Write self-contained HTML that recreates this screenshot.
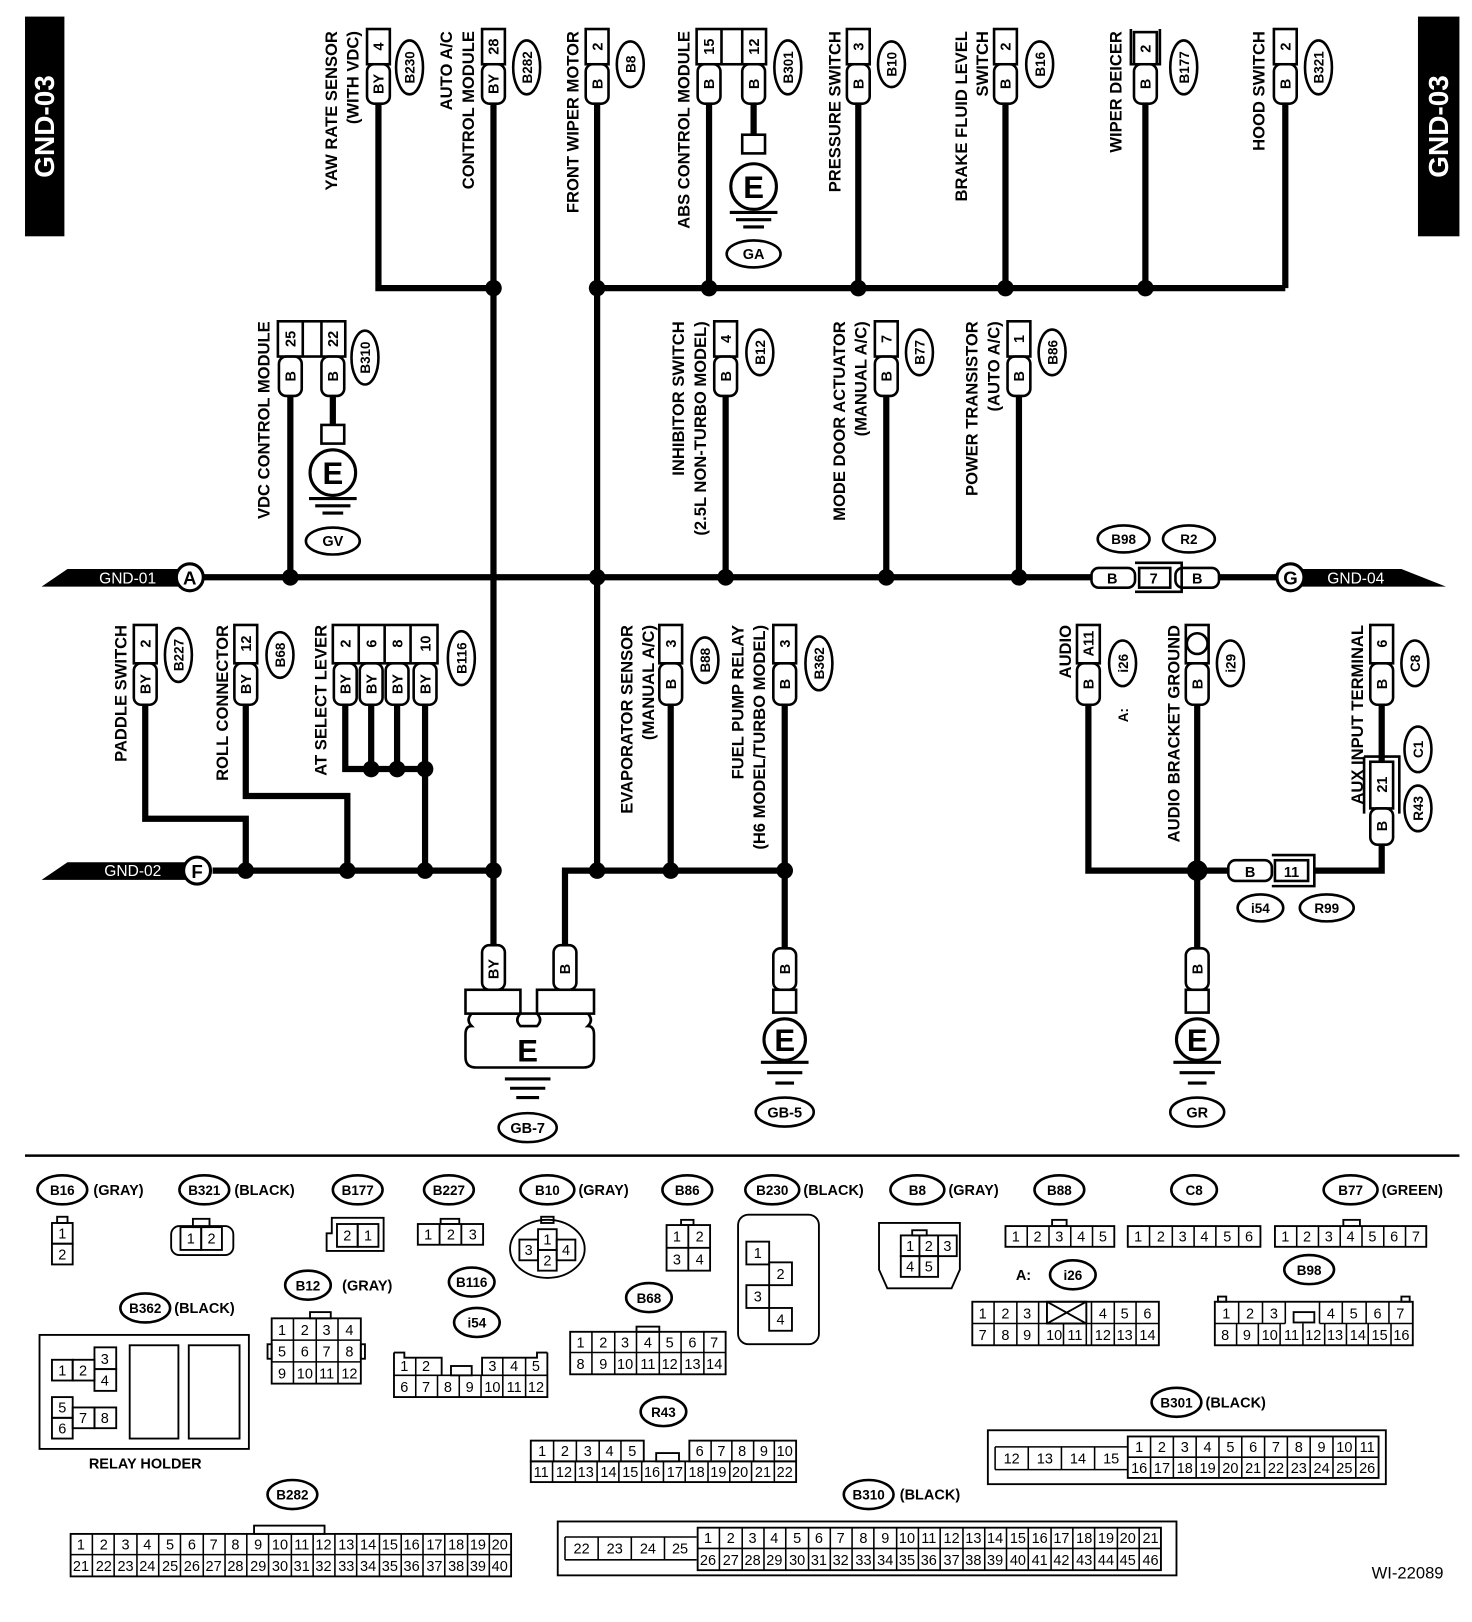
<!DOCTYPE html>
<html><head><meta charset="utf-8"><style>
html,body{margin:0;padding:0;background:#fff}
svg{display:block}
text{font-family:"Liberation Sans",Arial,sans-serif}
.b{font-weight:bold}
</style></head><body>
<svg width="1472" height="1622" viewBox="0 0 1420 1565" xmlns="http://www.w3.org/2000/svg">
<rect width="1420" height="1565" fill="#fff"/>
<rect x="24" y="16" width="38" height="212" fill="#000"/>
<text class="b" transform="translate(52,122) rotate(-90)" text-anchor="middle" font-size="27" fill="#fff">GND-03</text>
<rect x="1368" y="16" width="40" height="212" fill="#000"/>
<text class="b" transform="translate(1397,122) rotate(-90)" text-anchor="middle" font-size="27" fill="#fff">GND-03</text>

<g stroke="#000" stroke-width="6" fill="none" stroke-linejoin="miter">
<polyline points="365,100 365,278 476,278"/>
<line x1="476" y1="100" x2="476" y2="912"/>
<polyline points="576,100 576,840"/>
<line x1="576" y1="278" x2="1240" y2="278"/>
<line x1="684" y1="100" x2="684" y2="278"/>
<line x1="727" y1="100" x2="727" y2="130"/>
<line x1="828" y1="100" x2="828" y2="278"/>
<line x1="970" y1="100" x2="970" y2="278"/>
<line x1="1105" y1="100" x2="1105" y2="278"/>
<line x1="1240" y1="100" x2="1240" y2="278"/>
<line x1="197" y1="557" x2="1053" y2="557"/>
<line x1="1175" y1="557" x2="1232" y2="557"/>
<line x1="280" y1="382" x2="280" y2="557"/>
<line x1="321" y1="382" x2="321" y2="410"/>
<line x1="700" y1="382" x2="700" y2="557"/>
<line x1="855" y1="382" x2="855" y2="557"/>
<line x1="983" y1="382" x2="983" y2="557"/>
<line x1="205" y1="840" x2="476" y2="840"/>
<polyline points="545,912 545,840 757,840"/>
<line x1="757" y1="680" x2="757" y2="915"/>
<line x1="647" y1="680" x2="647" y2="840"/>
<polyline points="140,680 140,790 237,790 237,840"/>
<polyline points="237,680 237,768 335,768 335,840"/>
<polyline points="333,680 333,742 410,742"/>
<line x1="358" y1="680" x2="358" y2="742"/>
<line x1="383" y1="680" x2="383" y2="742"/>
<line x1="410" y1="680" x2="410" y2="840"/>
<polyline points="1050,680 1050,840 1185,840"/>
<line x1="1155" y1="680" x2="1155" y2="915"/>
<polyline points="1268,840 1333,840 1333,815"/>
<line x1="1333" y1="680" x2="1333" y2="735"/>
</g>
<g fill="#000">
<circle cx="476" cy="278" r="8"/><circle cx="576" cy="278" r="8"/><circle cx="684" cy="278" r="8"/><circle cx="828" cy="278" r="8"/><circle cx="970" cy="278" r="8"/><circle cx="1105" cy="278" r="8"/>
<circle cx="280" cy="557" r="8"/><circle cx="576" cy="557" r="8"/><circle cx="700" cy="557" r="8"/><circle cx="855" cy="557" r="8"/><circle cx="983" cy="557" r="8"/>
<circle cx="358" cy="742" r="8"/><circle cx="383" cy="742" r="8"/><circle cx="410" cy="742" r="8"/>
<circle cx="237" cy="840" r="8"/><circle cx="335" cy="840" r="8"/><circle cx="410" cy="840" r="8"/><circle cx="476" cy="840" r="8"/><circle cx="576" cy="840" r="8"/><circle cx="647" cy="840" r="8"/><circle cx="757" cy="840" r="8"/><circle cx="1155" cy="840" r="10"/>
</g>

<polygon points="40,566 65,549 175,549 175,566" fill="#000"/>
<text x="123" y="563" text-anchor="middle" font-size="15" fill="#fff">GND-01</text>
<circle cx="183" cy="557" r="13" fill="#fff" stroke="#000" stroke-width="3"/>
<text class="b" x="183" y="564" text-anchor="middle" font-size="18">A</text>
<polygon points="40,849 65,832 180,832 180,849" fill="#000"/>
<text x="128" y="845" text-anchor="middle" font-size="15" fill="#fff">GND-02</text>
<circle cx="190" cy="840" r="13" fill="#fff" stroke="#000" stroke-width="3"/>
<text class="b" x="190" y="847" text-anchor="middle" font-size="18">F</text>
<polygon points="1250,549 1352,549 1395,566 1250,566" fill="#000"/>
<text x="1308" y="563" text-anchor="middle" font-size="15" fill="#fff">GND-04</text>
<circle cx="1245" cy="557" r="13" fill="#fff" stroke="#000" stroke-width="3"/>
<text class="b" x="1245" y="564" text-anchor="middle" font-size="18">G</text>

<g stroke="#000" stroke-width="2.5" fill="#fff">
<rect x="1053" y="548" width="42" height="19" rx="7"/>
<rect x="1134" y="548" width="42" height="19" rx="7"/>
<path d="M1095,543 H1140 V571 H1095" fill="none"/>
<rect x="1099" y="548" width="30" height="19"/>
</g>
<g class="b" font-size="14" text-anchor="middle">
<text x="1073" y="563">B</text><text x="1113" y="563">7</text><text x="1155" y="563">B</text>
</g>
<g fill="none" stroke="#000" stroke-width="2.5"><ellipse cx="1084" cy="520" rx="25" ry="13"/><ellipse cx="1147" cy="520" rx="25" ry="13"/></g>
<g class="b" font-size="13" text-anchor="middle"><text x="1084" y="525">B98</text><text x="1147" y="525">R2</text></g>

<g stroke="#000" stroke-width="2.5" fill="#fff">
<rect x="1185" y="830" width="42" height="20" rx="7"/>
<path d="M1227,825 H1268 V855 H1227" fill="none"/>
<rect x="1230" y="830" width="32" height="20"/>
<ellipse cx="1216" cy="876" rx="22" ry="13" fill="none"/><ellipse cx="1280" cy="876" rx="26" ry="13" fill="none"/>
</g>
<g class="b" font-size="14" text-anchor="middle"><text x="1206" y="846">B</text><text x="1246" y="846">11</text><text x="1216" y="881" font-size="13">i54</text><text x="1280" y="881" font-size="13">R99</text></g>

<g stroke="#000" stroke-width="2.5" fill="#fff">
<rect x="354" y="28" width="22" height="34"/><rect x="354" y="62" width="22" height="38" rx="7"/>
<rect x="465" y="28" width="22" height="34"/><rect x="465" y="62" width="22" height="38" rx="7"/>
<rect x="565" y="28" width="22" height="34"/><rect x="565" y="62" width="22" height="38" rx="7"/>
<rect x="672" y="28" width="67" height="34"/><line x1="696" y1="28" x2="696" y2="62"/><line x1="716" y1="28" x2="716" y2="62"/>
<rect x="673" y="62" width="22" height="38" rx="7"/><rect x="716" y="62" width="22" height="38" rx="7"/>
<rect x="817" y="28" width="22" height="34"/><rect x="817" y="62" width="22" height="38" rx="7"/>
<rect x="959" y="28" width="22" height="34"/><rect x="959" y="62" width="22" height="38" rx="7"/>
<path d="M1091,28 V62 H1119 V28" fill="none"/><rect x="1094" y="31" width="22" height="31"/><rect x="1094" y="62" width="22" height="38" rx="7"/>
<rect x="1229" y="28" width="22" height="34"/><rect x="1229" y="62" width="22" height="38" rx="7"/>
<rect x="268" y="310" width="65" height="34"/><line x1="292" y1="310" x2="292" y2="344"/><line x1="310" y1="310" x2="310" y2="344"/>
<rect x="269" y="344" width="22" height="38" rx="7"/><rect x="310" y="344" width="22" height="38" rx="7"/>
<rect x="689" y="310" width="22" height="34"/><rect x="689" y="344" width="22" height="38" rx="7"/>
<rect x="844" y="310" width="22" height="34"/><rect x="844" y="344" width="22" height="38" rx="7"/>
<rect x="972" y="310" width="22" height="34"/><rect x="972" y="344" width="22" height="38" rx="7"/>
<rect x="129" y="603" width="22" height="37"/><rect x="129" y="640" width="22" height="40" rx="7"/>
<rect x="226" y="603" width="22" height="37"/><rect x="226" y="640" width="22" height="40" rx="7"/>
<rect x="321" y="603" width="101" height="37"/><line x1="346" y1="603" x2="346" y2="640"/><line x1="371" y1="603" x2="371" y2="640"/><line x1="396" y1="603" x2="396" y2="640"/>
<rect x="322" y="640" width="22" height="40" rx="7"/><rect x="347" y="640" width="22" height="40" rx="7"/><rect x="372" y="640" width="22" height="40" rx="7"/><rect x="399" y="640" width="22" height="40" rx="7"/>
<rect x="636" y="603" width="22" height="37"/><rect x="636" y="640" width="22" height="40" rx="7"/>
<rect x="746" y="603" width="22" height="37"/><rect x="746" y="640" width="22" height="40" rx="7"/>
<rect x="1039" y="603" width="22" height="37"/><rect x="1039" y="640" width="22" height="40" rx="7"/>
<rect x="1144" y="603" width="22" height="37"/><circle cx="1155" cy="621" r="10"/><rect x="1144" y="640" width="22" height="40" rx="7"/>
<rect x="1322" y="603" width="22" height="37"/><rect x="1322" y="640" width="22" height="40" rx="7"/>
<path d="M1316,730 V785 M1316,730 H1350 V785" fill="none"/><rect x="1322" y="735" width="22" height="45"/><rect x="1322" y="780" width="22" height="35" rx="7"/>
</g>
<g class="b" font-size="14" text-anchor="middle">
<text transform="translate(370,45) rotate(-90)">4</text><text transform="translate(370,81) rotate(-90)">BY</text>
<text transform="translate(481,45) rotate(-90)">28</text><text transform="translate(481,81) rotate(-90)">BY</text>
<text transform="translate(581,45) rotate(-90)">2</text><text transform="translate(581,81) rotate(-90)">B</text>
<text transform="translate(689,45) rotate(-90)">15</text><text transform="translate(689,81) rotate(-90)">B</text>
<text transform="translate(732,45) rotate(-90)">12</text><text transform="translate(732,81) rotate(-90)">B</text>
<text transform="translate(833,45) rotate(-90)">3</text><text transform="translate(833,81) rotate(-90)">B</text>
<text transform="translate(975,45) rotate(-90)">2</text><text transform="translate(975,81) rotate(-90)">B</text>
<text transform="translate(1110,47) rotate(-90)">2</text><text transform="translate(1110,81) rotate(-90)">B</text>
<text transform="translate(1245,45) rotate(-90)">2</text><text transform="translate(1245,81) rotate(-90)">B</text>
<text transform="translate(285,327) rotate(-90)">25</text><text transform="translate(285,363) rotate(-90)">B</text>
<text transform="translate(326,327) rotate(-90)">22</text><text transform="translate(326,363) rotate(-90)">B</text>
<text transform="translate(705,327) rotate(-90)">4</text><text transform="translate(705,363) rotate(-90)">B</text>
<text transform="translate(860,327) rotate(-90)">7</text><text transform="translate(860,363) rotate(-90)">B</text>
<text transform="translate(988,327) rotate(-90)">1</text><text transform="translate(988,363) rotate(-90)">B</text>
<text transform="translate(145,621) rotate(-90)">2</text><text transform="translate(145,660) rotate(-90)">BY</text>
<text transform="translate(242,621) rotate(-90)">12</text><text transform="translate(242,660) rotate(-90)">BY</text>
<text transform="translate(338,621) rotate(-90)">2</text><text transform="translate(338,660) rotate(-90)">BY</text>
<text transform="translate(363,621) rotate(-90)">6</text><text transform="translate(363,660) rotate(-90)">BY</text>
<text transform="translate(388,621) rotate(-90)">8</text><text transform="translate(388,660) rotate(-90)">BY</text>
<text transform="translate(415,621) rotate(-90)">10</text><text transform="translate(415,660) rotate(-90)">BY</text>
<text transform="translate(652,621) rotate(-90)">3</text><text transform="translate(652,660) rotate(-90)">B</text>
<text transform="translate(762,621) rotate(-90)">3</text><text transform="translate(762,660) rotate(-90)">B</text>
<text transform="translate(1055,621) rotate(-90)">A11</text><text transform="translate(1055,660) rotate(-90)">B</text>
<text transform="translate(1160,660) rotate(-90)">B</text>
<text transform="translate(1338,621) rotate(-90)">6</text><text transform="translate(1338,660) rotate(-90)">B</text>
<text transform="translate(1338,757) rotate(-90)">21</text><text transform="translate(1338,797) rotate(-90)">B</text>
</g>
<g fill="none" stroke="#000" stroke-width="2.5">
<ellipse cx="395" cy="65" rx="13" ry="26"/><ellipse cx="508" cy="65" rx="13" ry="26"/><ellipse cx="608" cy="62" rx="13" ry="22"/>
<ellipse cx="760" cy="65" rx="13" ry="26"/><ellipse cx="860" cy="62" rx="13" ry="22"/><ellipse cx="1003" cy="62" rx="13" ry="22"/>
<ellipse cx="1142" cy="65" rx="13" ry="26"/><ellipse cx="1272" cy="65" rx="13" ry="26"/>
<ellipse cx="352" cy="345" rx="13" ry="26"/><ellipse cx="733" cy="340" rx="13" ry="22"/><ellipse cx="887" cy="340" rx="13" ry="22"/><ellipse cx="1015" cy="340" rx="13" ry="22"/>
<ellipse cx="172" cy="632" rx="13" ry="26"/><ellipse cx="270" cy="632" rx="13" ry="22"/><ellipse cx="445" cy="635" rx="13" ry="26"/>
<ellipse cx="680" cy="637" rx="13" ry="22"/><ellipse cx="790" cy="640" rx="13" ry="26"/>
<ellipse cx="1083" cy="640" rx="13" ry="22"/><ellipse cx="1187" cy="640" rx="13" ry="22"/><ellipse cx="1365" cy="640" rx="13" ry="22"/>
<ellipse cx="1368" cy="723" rx="13" ry="22"/><ellipse cx="1368" cy="780" rx="13" ry="22"/>
</g>
<g class="b" font-size="13" text-anchor="middle">
<text transform="translate(400,65) rotate(-90)">B230</text><text transform="translate(513,65) rotate(-90)">B282</text><text transform="translate(613,62) rotate(-90)">B8</text>
<text transform="translate(765,65) rotate(-90)">B301</text><text transform="translate(865,62) rotate(-90)">B10</text><text transform="translate(1008,62) rotate(-90)">B16</text>
<text transform="translate(1147,65) rotate(-90)">B177</text><text transform="translate(1277,65) rotate(-90)">B321</text>
<text transform="translate(357,345) rotate(-90)">B310</text><text transform="translate(738,340) rotate(-90)">B12</text><text transform="translate(892,340) rotate(-90)">B77</text><text transform="translate(1020,340) rotate(-90)">B86</text>
<text transform="translate(177,632) rotate(-90)">B227</text><text transform="translate(275,632) rotate(-90)">B68</text><text transform="translate(450,635) rotate(-90)">B116</text>
<text transform="translate(685,637) rotate(-90)">B88</text><text transform="translate(795,640) rotate(-90)">B362</text>
<text transform="translate(1088,640) rotate(-90)">i26</text><text transform="translate(1192,640) rotate(-90)">i29</text><text transform="translate(1370,640) rotate(-90)">C8</text>
<text transform="translate(1373,723) rotate(-90)">C1</text><text transform="translate(1373,780) rotate(-90)">R43</text>
<text transform="translate(1088,690) rotate(-90)">A:</text>
</g>
<g class="b" font-size="16" text-anchor="end">
<text transform="translate(325,30) rotate(-90)">YAW RATE SENSOR</text>
<text transform="translate(346,30) rotate(-90)">(WITH VDC)</text>
<text transform="translate(436,30) rotate(-90)">AUTO A/C</text>
<text transform="translate(457,30) rotate(-90)">CONTROL MODULE</text>
<text transform="translate(558,30) rotate(-90)">FRONT WIPER MOTOR</text>
<text transform="translate(665,30) rotate(-90)">ABS CONTROL MODULE</text>
<text transform="translate(811,30) rotate(-90)">PRESSURE SWITCH</text>
<text transform="translate(933,30) rotate(-90)">BRAKE FLUID LEVEL</text>
<text transform="translate(953,30) rotate(-90)">SWITCH</text>
<text transform="translate(1082,30) rotate(-90)">WIPER DEICER</text>
<text transform="translate(1220,30) rotate(-90)">HOOD SWITCH</text>
<text transform="translate(260,310) rotate(-90)">VDC CONTROL MODULE</text>
<text transform="translate(660,310) rotate(-90)">INHIBITOR SWITCH</text>
<text transform="translate(681,310) rotate(-90)">(2.5L NON-TURBO MODEL)</text>
<text transform="translate(815,310) rotate(-90)">MODE DOOR ACTUATOR</text>
<text transform="translate(836,310) rotate(-90)">(MANUAL A/C)</text>
<text transform="translate(943,310) rotate(-90)">POWER TRANSISTOR</text>
<text transform="translate(964,310) rotate(-90)">(AUTO A/C)</text>
<text transform="translate(122,603) rotate(-90)">PADDLE SWITCH</text>
<text transform="translate(220,603) rotate(-90)">ROLL CONNECTOR</text>
<text transform="translate(315,603) rotate(-90)">AT SELECT LEVER</text>
<text transform="translate(610,603) rotate(-90)">EVAPORATOR SENSOR</text>
<text transform="translate(631,603) rotate(-90)">(MANUAL A/C)</text>
<text transform="translate(717,603) rotate(-90)">FUEL PUMP RELAY</text>
<text transform="translate(738,603) rotate(-90)">(H6 MODEL/TURBO MODEL)</text>
<text transform="translate(1033,603) rotate(-90)">AUDIO</text>
<text transform="translate(1138,603) rotate(-90)">AUDIO BRACKET GROUND</text>
<text transform="translate(1315,603) rotate(-90)">AUX INPUT TERMINAL</text>
</g>

<g stroke="#000" stroke-width="2.5" fill="#fff">
<rect x="716" y="130" width="22" height="18"/><circle cx="727" cy="180" r="22" stroke-width="3"/>
<rect x="310" y="410" width="22" height="18"/><circle cx="321" cy="456" r="22" stroke-width="3"/>
<rect x="465" y="912" width="22" height="43" rx="7"/><rect x="534" y="912" width="22" height="43" rx="7"/>
<path d="M455,978 q-6,6 0,12 q-6,0 -6,8 v22 q0,10 10,10 h104 q10,0 10,-10 v-22 q0,-8 -6,-8 q6,-6 0,-12 z"/>
<path d="M502,978 q-6,6 0,12 h16 q6,-6 0,-12 z"/>
<rect x="449" y="955" width="53" height="23"/><rect x="518" y="955" width="55" height="23"/>
<rect x="746" y="915" width="22" height="40" rx="7"/><rect x="746" y="955" width="22" height="22"/><circle cx="757" cy="1003" r="20" stroke-width="3"/>
<rect x="1144" y="915" width="22" height="40" rx="7"/><rect x="1144" y="955" width="22" height="22"/><circle cx="1155" cy="1003" r="20" stroke-width="3"/>
</g>
<g stroke="#000" stroke-width="3">
<line x1="704" y1="205" x2="750" y2="205"/><line x1="710" y1="212" x2="744" y2="212"/><line x1="717" y1="219" x2="737" y2="219"/>
<line x1="298" y1="481" x2="344" y2="481"/><line x1="304" y1="488" x2="338" y2="488"/><line x1="311" y1="495" x2="331" y2="495"/>
<line x1="487" y1="1041" x2="531" y2="1041"/><line x1="492" y1="1050" x2="526" y2="1050"/><line x1="498" y1="1059" x2="520" y2="1059"/>
<line x1="734" y1="1025" x2="780" y2="1025"/><line x1="740" y1="1035" x2="774" y2="1035"/><line x1="748" y1="1045" x2="766" y2="1045"/>
<line x1="1132" y1="1025" x2="1178" y2="1025"/><line x1="1138" y1="1035" x2="1172" y2="1035"/><line x1="1146" y1="1045" x2="1164" y2="1045"/>
</g>
<g class="b" text-anchor="middle">
<text x="727" y="191" font-size="30">E</text><text x="321" y="467" font-size="30">E</text>
<text x="509" y="1024" font-size="30">E</text><text x="757" y="1014" font-size="30">E</text><text x="1155" y="1014" font-size="30">E</text>
<text transform="translate(481,935) rotate(-90)" font-size="14">BY</text><text transform="translate(550,935) rotate(-90)" font-size="14">B</text>
<text transform="translate(762,935) rotate(-90)" font-size="14">B</text><text transform="translate(1160,935) rotate(-90)" font-size="14">B</text>
</g>
<g fill="none" stroke="#000" stroke-width="2.5">
<ellipse cx="727" cy="245" rx="26" ry="13"/><ellipse cx="321" cy="522" rx="26" ry="13"/><ellipse cx="509" cy="1088" rx="28" ry="14"/>
<ellipse cx="757" cy="1073" rx="28" ry="14"/><ellipse cx="1155" cy="1073" rx="26" ry="14"/>
</g>
<g class="b" font-size="14" text-anchor="middle">
<text x="727" y="250">GA</text><text x="321" y="527">GV</text><text x="509" y="1093">GB-7</text><text x="757" y="1078">GB-5</text><text x="1155" y="1078">GR</text>
</g>

<line x1="24" y1="1115" x2="1408" y2="1115" stroke="#000" stroke-width="2.5"/>

<g fill="none" stroke="#000" stroke-width="2.5">
<ellipse cx="60" cy="1148" rx="24" ry="14"/><ellipse cx="197" cy="1148" rx="24" ry="14"/><ellipse cx="345" cy="1148" rx="24" ry="14"/>
<ellipse cx="433" cy="1148" rx="24" ry="14"/><ellipse cx="528" cy="1148" rx="26" ry="14"/><ellipse cx="663" cy="1148" rx="24" ry="14"/>
<ellipse cx="745" cy="1148" rx="26" ry="14"/><ellipse cx="885" cy="1148" rx="26" ry="14"/><ellipse cx="1022" cy="1148" rx="24" ry="14"/>
<ellipse cx="1152" cy="1148" rx="22" ry="14"/><ellipse cx="1303" cy="1148" rx="26" ry="14"/><ellipse cx="1035" cy="1230" rx="22" ry="14"/>
<ellipse cx="1263" cy="1225" rx="24" ry="14"/><ellipse cx="297" cy="1240" rx="22" ry="14"/><ellipse cx="455" cy="1237" rx="22" ry="14"/>
<ellipse cx="460" cy="1276" rx="22" ry="14"/><ellipse cx="626" cy="1252" rx="22" ry="14"/><ellipse cx="140" cy="1262" rx="24" ry="14"/>
<ellipse cx="640" cy="1362" rx="22" ry="14"/><ellipse cx="1135" cy="1353" rx="24" ry="14"/><ellipse cx="282" cy="1442" rx="24" ry="14"/>
<ellipse cx="838" cy="1442" rx="24" ry="14"/>
</g>
<g class="b" font-size="13" text-anchor="middle">
<text x="60" y="1153">B16</text><text x="197" y="1153">B321</text><text x="345" y="1153">B177</text><text x="433" y="1153">B227</text>
<text x="528" y="1153">B10</text><text x="663" y="1153">B86</text><text x="745" y="1153">B230</text><text x="885" y="1153">B8</text>
<text x="1022" y="1153">B88</text><text x="1152" y="1153">C8</text><text x="1303" y="1153">B77</text><text x="1035" y="1235">i26</text>
<text x="1263" y="1230">B98</text><text x="297" y="1245">B12</text><text x="455" y="1242">B116</text><text x="460" y="1281">i54</text>
<text x="626" y="1257">B68</text><text x="140" y="1267">B362</text><text x="640" y="1367">R43</text><text x="1135" y="1358">B301</text>
<text x="282" y="1447">B282</text><text x="838" y="1447">B310</text>
</g>
<g class="b" font-size="14">
<text x="90" y="1153">(GRAY)</text><text x="226" y="1153">(BLACK)</text><text x="558" y="1153">(GRAY)</text><text x="775" y="1153">(BLACK)</text>
<text x="915" y="1153">(GRAY)</text><text x="1333" y="1153">(GREEN)</text><text x="980" y="1235">A:</text><text x="330" y="1245">(GRAY)</text>
<text x="168" y="1267">(BLACK)</text><text x="1163" y="1358">(BLACK)</text><text x="868" y="1447">(BLACK)</text>
<text x="140" y="1417" text-anchor="middle">RELAY HOLDER</text>
</g>
<text x="1358" y="1523" text-anchor="middle" font-size="16">WI-22089</text>

<g stroke="#000" stroke-width="1.8" fill="none">
<rect x="55" y="1174" width="10" height="6"/><rect x="50" y="1180" width="20" height="20"/><rect x="50" y="1200" width="20" height="20"/>
<rect x="165" y="1183" width="60" height="28" rx="8"/><rect x="186" y="1176" width="16" height="8"/><rect x="174" y="1184" width="20" height="22"/><rect x="194" y="1184" width="20" height="22"/>
<path d="M320,1175 H370 V1207 H315 V1190 H320 Z"/><rect x="325" y="1181" width="20" height="22"/><rect x="345" y="1181" width="20" height="22"/>
<rect x="403" y="1181" width="63" height="20"/><line x1="424" y1="1181" x2="424" y2="1201"/><line x1="445" y1="1181" x2="445" y2="1201"/><rect x="425" y="1176" width="18" height="5"/>
<ellipse cx="528" cy="1205" rx="36" ry="28"/><rect x="522" y="1174" width="12" height="6"/>
<rect x="519" y="1186" width="18" height="20"/><rect x="519" y="1206" width="18" height="20"/><rect x="501" y="1196" width="18" height="20"/><rect x="537" y="1196" width="18" height="20"/>
<rect x="643" y="1182" width="42" height="44"/><line x1="664" y1="1182" x2="664" y2="1226"/><line x1="643" y1="1204" x2="685" y2="1204"/><rect x="657" y="1177" width="12" height="5"/>
<rect x="712" y="1172" width="78" height="125" rx="10"/><rect x="720" y="1198" width="22" height="22"/><rect x="742" y="1218" width="22" height="22"/><rect x="720" y="1240" width="22" height="22"/><rect x="742" y="1262" width="22" height="22"/>
<path d="M848,1180 H926 V1225 L918,1243 H856 L848,1225 Z"/><rect x="869" y="1192" width="54" height="20"/><line x1="887" y1="1192" x2="887" y2="1212"/><line x1="905" y1="1192" x2="905" y2="1212"/>
<rect x="869" y="1212" width="36" height="20"/><line x1="887" y1="1212" x2="887" y2="1232"/><rect x="880" y="1187" width="14" height="5"/>
<rect x="970" y="1183" width="105" height="20"/><rect x="1015" y="1177" width="14" height="6"/>
<rect x="1088" y="1183" width="128" height="20"/>
<rect x="1230" y="1183" width="146" height="20"/><rect x="1296" y="1177" width="16" height="6"/>
<rect x="38" y="1288" width="202" height="110"/><rect x="125" y="1298" width="47" height="90"/><rect x="182" y="1298" width="49" height="90"/>
<rect x="50" y="1312" width="20" height="20"/><rect x="70" y="1312" width="21" height="20"/><rect x="91" y="1300" width="21" height="21"/><rect x="91" y="1321" width="21" height="21"/>
<rect x="50" y="1348" width="20" height="20"/><rect x="50" y="1368" width="20" height="20"/><rect x="70" y="1358" width="21" height="20"/><rect x="91" y="1358" width="21" height="20"/>
<rect x="262" y="1272" width="86" height="63"/><rect x="299" y="1266" width="20" height="6"/><rect x="258" y="1297" width="4" height="14"/><rect x="348" y="1297" width="4" height="14"/>
<path d="M380,1305 V1348 H528 V1305"/><path d="M380,1305 H390 V1310 H426 V1327 M465,1327 V1310 H518 V1305 H528"/><rect x="435" y="1318" width="20" height="9"/>
<rect x="550" y="1285" width="150" height="41"/><rect x="614" y="1280" width="22" height="5"/>
<rect x="512" y="1390" width="109" height="20"/><rect x="665" y="1390" width="103" height="20"/><rect x="512" y="1410" width="256" height="20"/><rect x="633" y="1402" width="22" height="8"/>
<rect x="938" y="1256" width="180" height="42"/><rect x="1010" y="1256" width="38" height="21"/><line x1="1010" y1="1256" x2="1048" y2="1277"/><line x1="1048" y1="1256" x2="1010" y2="1277"/>
<rect x="1172" y="1256" width="191" height="42"/><rect x="1248" y="1266" width="20" height="10"/><rect x="1175" y="1251" width="8" height="5"/><rect x="1352" y="1251" width="8" height="5"/>
<rect x="953" y="1380" width="384" height="52"/><rect x="1088" y="1386" width="242" height="40"/>
<rect x="68" y="1480" width="425" height="41"/><rect x="245" y="1472" width="68" height="8"/>
<rect x="538" y="1468" width="597" height="52"/><rect x="673" y="1474" width="447" height="41"/>
</g>
<g stroke="#000" stroke-width="1.5">
<path d="M991,1183V1203M1012,1183V1203M1033,1183V1203M1054,1183V1203"/>
<path d="M1109,1183V1203M1131,1183V1203M1152,1183V1203M1173,1183V1203M1195,1183V1203"/>
<path d="M1251,1183V1203M1272,1183V1203M1293,1183V1203M1314,1183V1203M1335,1183V1203M1356,1183V1203"/>
<path d="M262,1293H348M262,1314H348M283,1272V1335M305,1272V1335M326,1272V1335"/>
<path d="M380,1327H528M401,1310V1348M422,1327V1348M443,1327V1348M464,1327V1348M485,1310V1348M507,1310V1348"/>
<path d="M550,1305H700M571,1285V1326M593,1285V1326M614,1285V1326M636,1285V1326M657,1285V1326M679,1285V1326"/>
<path d="M534,1390V1410M556,1390V1410M578,1390V1410M599,1390V1410M686,1390V1410M706,1390V1410M727,1390V1410M747,1390V1410"/>
<path d="M533,1410V1430M555,1410V1430M576,1410V1430M597,1410V1430M619,1410V1430M640,1410V1430M661,1410V1430M683,1410V1430M704,1410V1430M725,1410V1430M747,1410V1430"/>
<path d="M938,1277H1118M959,1256V1298M981,1256V1298M1002,1256V1298M1010,1256V1277M1026,1277V1298M1048,1256V1298M1053,1256V1298M1075,1256V1298M1096,1256V1298"/>
<path d="M1172,1277H1240M1273,1277H1363M1240,1256V1277M1273,1256V1277M1195,1256V1277M1218,1256V1277M1295,1256V1277M1318,1256V1277M1340,1256V1277"/>
<path d="M1193,1277V1298M1214,1277V1298M1235,1277V1298M1257,1277V1298M1278,1277V1298M1299,1277V1298M1320,1277V1298M1342,1277V1298"/>
<path d="M1088,1406H1330M1110,1386V1426M1132,1386V1426M1154,1386V1426M1176,1386V1426M1198,1386V1426M1220,1386V1426M1242,1386V1426M1264,1386V1426M1286,1386V1426M1308,1386V1426"/>
<path d="M960,1396H1088M960,1418H1088M960,1396V1418M992,1396V1418M1024,1396V1418M1056,1396V1418"/>
<path d="M68,1500H493M89,1480V1521M110,1480V1521M132,1480V1521M153,1480V1521M174,1480V1521M196,1480V1521M217,1480V1521M238,1480V1521M259,1480V1521M281,1480V1521M302,1480V1521M323,1480V1521M344,1480V1521M366,1480V1521M387,1480V1521M408,1480V1521M429,1480V1521M451,1480V1521M472,1480V1521"/>
<path d="M673,1494H1120M694,1474V1515M716,1474V1515M737,1474V1515M758,1474V1515M780,1474V1515M801,1474V1515M822,1474V1515M843,1474V1515M865,1474V1515M886,1474V1515M907,1474V1515M929,1474V1515M950,1474V1515M971,1474V1515M992,1474V1515M1014,1474V1515M1035,1474V1515M1056,1474V1515M1078,1474V1515M1099,1474V1515"/>
<path d="M545,1483H672M545,1505H672M545,1483V1505M577,1483V1505M609,1483V1505M641,1483V1505"/>
</g>
<g font-size="14" text-anchor="middle">
<text x="60" y="1195">1</text><text x="60" y="1215">2</text>
<text x="184" y="1200">1</text><text x="204" y="1200">2</text>
<text x="335" y="1197">2</text><text x="355" y="1197">1</text>
<text x="413" y="1196">1</text><text x="435" y="1196">2</text><text x="456" y="1196">3</text>
<text x="528" y="1201">1</text><text x="528" y="1221">2</text><text x="510" y="1211">3</text><text x="546" y="1211">4</text>
<text x="653" y="1198">1</text><text x="675" y="1198">2</text><text x="653" y="1220">3</text><text x="675" y="1220">4</text>
<text x="731" y="1214">1</text><text x="753" y="1234">2</text><text x="731" y="1256">3</text><text x="753" y="1278">4</text>
<text x="878" y="1207">1</text><text x="896" y="1207">2</text><text x="914" y="1207">3</text><text x="878" y="1227">4</text><text x="896" y="1227">5</text>
<text x="980" y="1198">1</text><text x="1001" y="1198">2</text><text x="1022" y="1198">3</text><text x="1043" y="1198">4</text><text x="1064" y="1198">5</text>
<text x="1098" y="1198">1</text><text x="1120" y="1198">2</text><text x="1141" y="1198">3</text><text x="1162" y="1198">4</text><text x="1184" y="1198">5</text><text x="1205" y="1198">6</text>
<text x="1240" y="1198">1</text><text x="1261" y="1198">2</text><text x="1282" y="1198">3</text><text x="1303" y="1198">4</text><text x="1324" y="1198">5</text><text x="1345" y="1198">6</text><text x="1366" y="1198">7</text>
<text x="60" y="1327">1</text><text x="80" y="1327">2</text><text x="101" y="1316">3</text><text x="101" y="1337">4</text><text x="60" y="1363">5</text><text x="60" y="1383">6</text><text x="80" y="1373">7</text><text x="101" y="1373">8</text>
<text x="272" y="1288">1</text><text x="294" y="1288">2</text><text x="315" y="1288">3</text><text x="337" y="1288">4</text>
<text x="272" y="1309">5</text><text x="294" y="1309">6</text><text x="315" y="1309">7</text><text x="337" y="1309">8</text>
<text x="272" y="1330">9</text><text x="294" y="1330">10</text><text x="315" y="1330">11</text><text x="337" y="1330">12</text>
<text x="390" y="1323">1</text><text x="411" y="1323">2</text><text x="475" y="1323">3</text><text x="496" y="1323">4</text><text x="517" y="1323">5</text>
<text x="390" y="1343">6</text><text x="411" y="1343">7</text><text x="432" y="1343">8</text><text x="453" y="1343">9</text><text x="475" y="1343">10</text><text x="496" y="1343">11</text><text x="517" y="1343">12</text>
<text x="560" y="1300">1</text><text x="582" y="1300">2</text><text x="603" y="1300">3</text><text x="625" y="1300">4</text><text x="646" y="1300">5</text><text x="668" y="1300">6</text><text x="689" y="1300">7</text>
<text x="560" y="1321">8</text><text x="582" y="1321">9</text><text x="603" y="1321">10</text><text x="625" y="1321">11</text><text x="646" y="1321">12</text><text x="668" y="1321">13</text><text x="689" y="1321">14</text>
<text x="523" y="1405">1</text><text x="545" y="1405">2</text><text x="567" y="1405">3</text><text x="588" y="1405">4</text><text x="610" y="1405">5</text>
<text x="675" y="1405">6</text><text x="696" y="1405">7</text><text x="716" y="1405">8</text><text x="737" y="1405">9</text><text x="757" y="1405">10</text>
<text x="522" y="1425">11</text><text x="544" y="1425">12</text><text x="565" y="1425">13</text><text x="587" y="1425">14</text><text x="608" y="1425">15</text><text x="629" y="1425">16</text><text x="651" y="1425">17</text><text x="672" y="1425">18</text><text x="693" y="1425">19</text><text x="714" y="1425">20</text><text x="736" y="1425">21</text><text x="757" y="1425">22</text>
<text x="948" y="1272">1</text><text x="970" y="1272">2</text><text x="991" y="1272">3</text><text x="1064" y="1272">4</text><text x="1085" y="1272">5</text><text x="1107" y="1272">6</text>
<text x="948" y="1293">7</text><text x="970" y="1293">8</text><text x="991" y="1293">9</text><text x="1017" y="1293">10</text><text x="1037" y="1293">11</text><text x="1064" y="1293">12</text><text x="1085" y="1293">13</text><text x="1107" y="1293">14</text>
<text x="1183" y="1272">1</text><text x="1206" y="1272">2</text><text x="1229" y="1272">3</text><text x="1284" y="1272">4</text><text x="1306" y="1272">5</text><text x="1329" y="1272">6</text><text x="1351" y="1272">7</text>
<text x="1182" y="1293">8</text><text x="1203" y="1293">9</text><text x="1225" y="1293">10</text><text x="1246" y="1293">11</text><text x="1267" y="1293">12</text><text x="1288" y="1293">13</text><text x="1310" y="1293">14</text><text x="1331" y="1293">15</text><text x="1352" y="1293">16</text>
<text x="976" y="1412">12</text><text x="1008" y="1412">13</text><text x="1040" y="1412">14</text><text x="1072" y="1412">15</text>
<text x="1099" y="1401">1</text><text x="1121" y="1401">2</text><text x="1143" y="1401">3</text><text x="1165" y="1401">4</text><text x="1187" y="1401">5</text><text x="1209" y="1401">6</text><text x="1231" y="1401">7</text><text x="1253" y="1401">8</text><text x="1275" y="1401">9</text><text x="1297" y="1401">10</text><text x="1319" y="1401">11</text>
<text x="1099" y="1421">16</text><text x="1121" y="1421">17</text><text x="1143" y="1421">18</text><text x="1165" y="1421">19</text><text x="1187" y="1421">20</text><text x="1209" y="1421">21</text><text x="1231" y="1421">22</text><text x="1253" y="1421">23</text><text x="1275" y="1421">24</text><text x="1297" y="1421">25</text><text x="1319" y="1421">26</text>
<text x="78" y="1495">1</text><text x="100" y="1495">2</text><text x="121" y="1495">3</text><text x="142" y="1495">4</text><text x="164" y="1495">5</text><text x="185" y="1495">6</text><text x="206" y="1495">7</text><text x="227" y="1495">8</text><text x="249" y="1495">9</text><text x="270" y="1495">10</text><text x="291" y="1495">11</text><text x="312" y="1495">12</text><text x="334" y="1495">13</text><text x="355" y="1495">14</text><text x="376" y="1495">15</text><text x="397" y="1495">16</text><text x="419" y="1495">17</text><text x="440" y="1495">18</text><text x="461" y="1495">19</text><text x="482" y="1495">20</text>
<text x="78" y="1516">21</text><text x="100" y="1516">22</text><text x="121" y="1516">23</text><text x="142" y="1516">24</text><text x="164" y="1516">25</text><text x="185" y="1516">26</text><text x="206" y="1516">27</text><text x="227" y="1516">28</text><text x="249" y="1516">29</text><text x="270" y="1516">30</text><text x="291" y="1516">31</text><text x="312" y="1516">32</text><text x="334" y="1516">33</text><text x="355" y="1516">34</text><text x="376" y="1516">35</text><text x="397" y="1516">36</text><text x="419" y="1516">37</text><text x="440" y="1516">38</text><text x="461" y="1516">39</text><text x="482" y="1516">40</text>
<text x="561" y="1499">22</text><text x="593" y="1499">23</text><text x="625" y="1499">24</text><text x="656" y="1499">25</text>
<text x="683" y="1489">1</text><text x="705" y="1489">2</text><text x="726" y="1489">3</text><text x="747" y="1489">4</text><text x="769" y="1489">5</text><text x="790" y="1489">6</text><text x="811" y="1489">7</text><text x="833" y="1489">8</text><text x="854" y="1489">9</text><text x="875" y="1489">10</text><text x="896" y="1489">11</text><text x="918" y="1489">12</text><text x="939" y="1489">13</text><text x="960" y="1489">14</text><text x="982" y="1489">15</text><text x="1003" y="1489">16</text><text x="1024" y="1489">17</text><text x="1046" y="1489">18</text><text x="1067" y="1489">19</text><text x="1088" y="1489">20</text><text x="1110" y="1489">21</text>
<text x="683" y="1510">26</text><text x="705" y="1510">27</text><text x="726" y="1510">28</text><text x="747" y="1510">29</text><text x="769" y="1510">30</text><text x="790" y="1510">31</text><text x="811" y="1510">32</text><text x="833" y="1510">33</text><text x="854" y="1510">34</text><text x="875" y="1510">35</text><text x="896" y="1510">36</text><text x="918" y="1510">37</text><text x="939" y="1510">38</text><text x="960" y="1510">39</text><text x="982" y="1510">40</text><text x="1003" y="1510">41</text><text x="1024" y="1510">42</text><text x="1046" y="1510">43</text><text x="1067" y="1510">44</text><text x="1088" y="1510">45</text><text x="1110" y="1510">46</text>
</g>
</svg>
</body></html>
